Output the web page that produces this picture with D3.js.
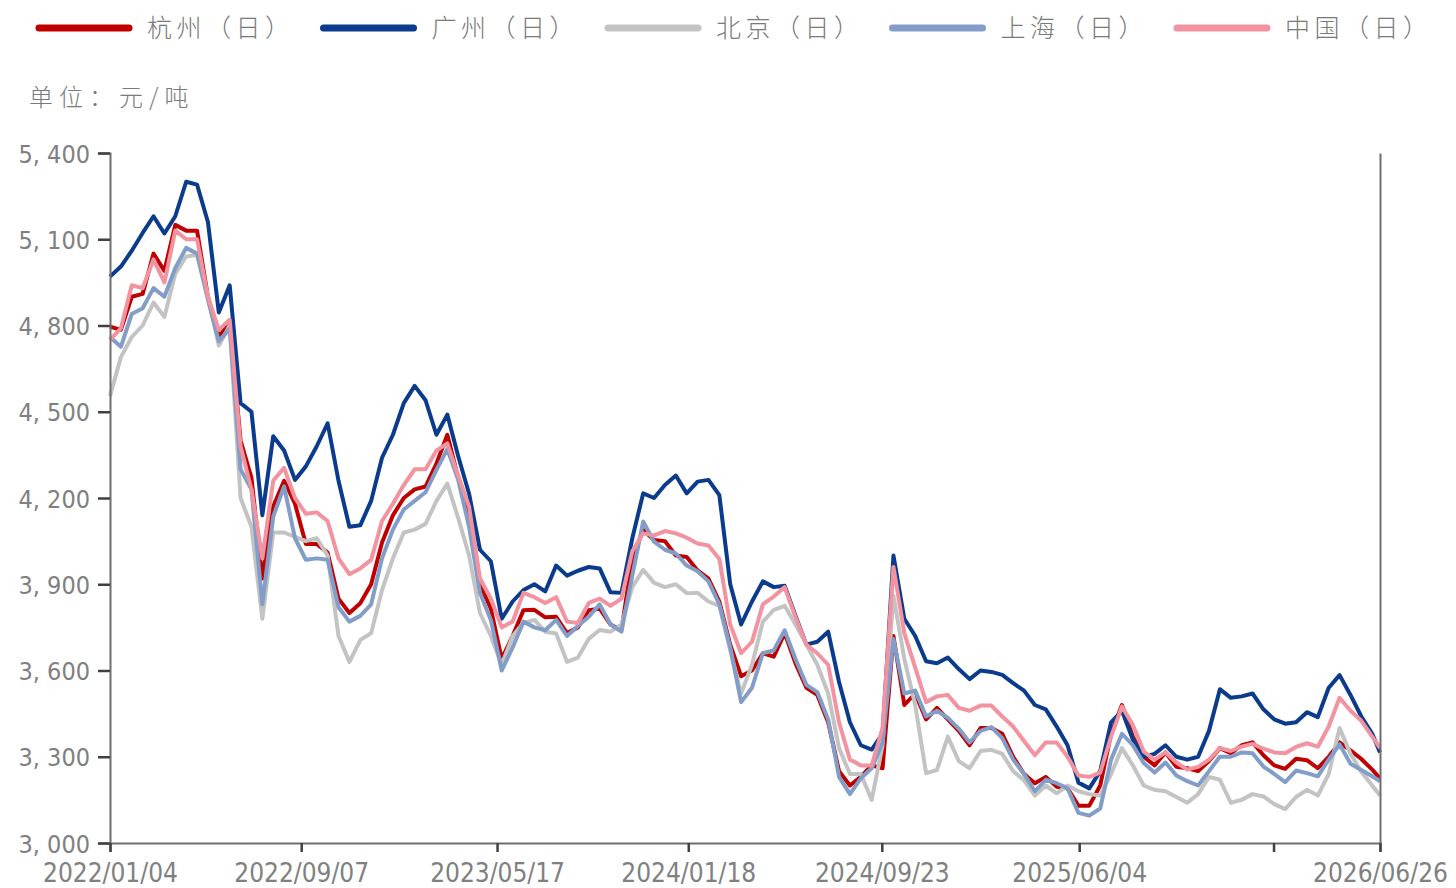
<!DOCTYPE html>
<html>
<head>
<meta charset="utf-8">
<script src="https://cdn.jsdelivr.net/npm/d3@7/dist/d3.min.js"></script>
<style>
  body { margin: 0; background: #fff; }
  .cjk { font-family: "Noto Sans CJK SC", sans-serif; font-weight: 300; fill: #7a7a7a; }
  .axis text { font-family: "DejaVu Sans Condensed", "DejaVu Sans", sans-serif; fill: #808080; }
</style>
</head>
<body>
<svg id="chart" width="1456" height="888"></svg>
<script>
// sample dates (every two weeks) and daily price readings, 元/吨
var dates = [
  "2022-01-04","2022-01-18","2022-02-01","2022-02-15","2022-03-01","2022-03-15","2022-03-29","2022-04-12","2022-04-26","2022-05-10","2022-05-24","2022-06-07","2022-06-21",
  "2022-07-05","2022-07-19","2022-08-02","2022-08-16","2022-08-30","2022-09-13","2022-09-27","2022-10-11","2022-10-25","2022-11-08","2022-11-22","2022-12-06","2022-12-20",
  "2023-01-03","2023-01-17","2023-01-31","2023-02-14","2023-02-28","2023-03-14","2023-03-28","2023-04-11","2023-04-25","2023-05-09","2023-05-23","2023-06-06","2023-06-20",
  "2023-07-04","2023-07-18","2023-08-01","2023-08-15","2023-08-29","2023-09-12","2023-09-26","2023-10-10","2023-10-24","2023-11-07","2023-11-21","2023-12-05","2023-12-19",
  "2024-01-02","2024-01-16","2024-01-30","2024-02-13","2024-02-27","2024-03-12","2024-03-26","2024-04-09","2024-04-23","2024-05-07","2024-05-21","2024-06-04","2024-06-18",
  "2024-07-02","2024-07-16","2024-07-30","2024-08-13","2024-08-27","2024-09-10","2024-09-24","2024-10-08","2024-10-22","2024-11-05","2024-11-19","2024-12-03","2024-12-17","2024-12-31",
  "2025-01-14","2025-01-28","2025-02-11","2025-02-25","2025-03-11","2025-03-25","2025-04-08","2025-04-22","2025-05-06","2025-05-20","2025-06-03","2025-06-17","2025-07-01",
  "2025-07-15","2025-07-29","2025-08-12","2025-08-26","2025-09-09","2025-09-23","2025-10-07","2025-10-21","2025-11-04","2025-11-18","2025-12-02","2025-12-16","2025-12-30",
  "2026-01-13","2026-01-27","2026-02-10","2026-02-24","2026-03-10","2026-03-24","2026-04-07","2026-04-21","2026-05-05","2026-05-19","2026-06-02","2026-06-16","2026-06-26"
];

var hangzhou = [
  4796,4785,4900,4910,5050,4990,5150,5130,5130,4900,4760,4810,4400,
  4270,3920,4170,4260,4180,4040,4040,4010,3850,3800,3834,3900,4045,
  4140,4200,4230,4240,4320,4420,4270,4130,3900,3815,3640,3720,3810,
  3811,3785,3787,3730,3750,3810,3815,3760,3740,3990,4089,4054,4050,
  4000,3995,3948,3920,3840,3690,3580,3600,3660,3648,3730,3625,3540,
  3515,3420,3250,3200,3230,3270,3260,3720,3480,3520,3430,3470,3430,3390,
  3340,3400,3400,3380,3300,3240,3208,3230,3196,3190,3130,3130,3200,
  3380,3480,3370,3300,3270,3315,3265,3260,3250,3285,3330,3312,3340,
  3350,3305,3270,3258,3293,3288,3260,3300,3350,3322,3292,3255,3225
];

var guangzhou = [
  4970,5005,5060,5122,5180,5120,5180,5300,5290,5160,4845,4940,4530,
  4500,4140,4415,4365,4263,4310,4380,4460,4260,4100,4105,4190,4340,
  4420,4530,4590,4540,4420,4490,4345,4215,4020,3980,3780,3840,3880,
  3900,3875,3965,3930,3947,3960,3955,3872,3870,4060,4216,4200,4245,
  4278,4216,4257,4263,4210,3900,3760,3840,3910,3890,3895,3790,3690,
  3700,3735,3560,3420,3340,3325,3380,4000,3780,3720,3632,3625,3645,3605,
  3570,3600,3595,3585,3556,3530,3480,3465,3405,3340,3210,3190,3250,
  3420,3460,3360,3300,3310,3340,3300,3290,3300,3390,3535,3505,3510,
  3520,3465,3430,3415,3420,3455,3438,3540,3584,3515,3440,3380,3315
];

var beijing = [
  4555,4690,4760,4800,4880,4830,4980,5040,5045,4900,4730,4800,4200,
  4100,3780,4080,4080,4065,4050,4060,4000,3720,3630,3706,3730,3880,
  3990,4080,4090,4110,4190,4250,4130,4000,3800,3720,3620,3720,3765,
  3776,3735,3729,3630,3645,3710,3741,3735,3760,3890,3950,3905,3890,
  3900,3869,3870,3840,3825,3670,3520,3620,3770,3811,3825,3760,3690,
  3620,3520,3330,3240,3240,3150,3340,3860,3640,3480,3243,3254,3370,3285,
  3260,3320,3324,3310,3250,3218,3165,3200,3173,3200,3180,3170,3165,
  3240,3330,3270,3200,3185,3180,3160,3140,3170,3230,3220,3140,3150,
  3170,3162,3135,3118,3160,3185,3165,3240,3400,3310,3248,3200,3165
];

var shanghai = [
  4760,4726,4840,4860,4930,4900,5000,5070,5050,4890,4745,4790,4300,
  4230,3830,4135,4240,4060,3985,3990,3985,3820,3770,3790,3830,3990,
  4090,4160,4190,4220,4298,4370,4263,4100,3870,3776,3600,3680,3770,
  3750,3740,3776,3720,3755,3787,3830,3760,3735,3930,4118,4048,4020,
  4007,3965,3945,3910,3830,3680,3490,3540,3660,3670,3740,3640,3550,
  3525,3430,3230,3170,3225,3260,3350,3710,3520,3530,3440,3460,3435,3398,
  3350,3390,3403,3365,3290,3240,3180,3220,3208,3190,3105,3095,3120,
  3290,3380,3340,3278,3245,3280,3235,3215,3200,3250,3300,3300,3315,
  3312,3266,3240,3212,3252,3243,3232,3290,3343,3276,3254,3232,3215
];

var china = [
  4750,4790,4940,4930,5030,4950,5130,5100,5100,4900,4785,4820,4380,
  4230,3990,4260,4305,4200,4145,4150,4120,3990,3935,3955,3985,4120,
  4180,4245,4300,4300,4365,4390,4278,4170,3920,3850,3750,3770,3870,
  3855,3835,3855,3770,3765,3835,3850,3825,3850,4015,4077,4070,4085,
  4077,4062,4042,4035,3988,3760,3660,3700,3830,3857,3890,3785,3690,
  3660,3620,3420,3290,3270,3270,3400,3960,3730,3610,3490,3510,3515,3470,
  3460,3478,3478,3440,3405,3355,3305,3350,3350,3300,3235,3230,3245,
  3370,3475,3410,3318,3290,3315,3280,3255,3265,3290,3330,3320,3335,
  3345,3328,3315,3312,3334,3347,3335,3405,3505,3460,3425,3370,3330
];

var seriesNames = ['杭州（日）', '广州（日）', '北京（日）', '上海（日）', '中国（日）'];
var seriesColors = ['#c00000', '#0a3b8c', '#c3c3c3', '#819dc8', '#f2939f'];
var yTicks = [3000, 3300, 3600, 3900, 4200, 4500, 4800, 5100, 5400];
var xTicks = ['2022/01/04', '2022/09/07', '2023/05/17', '2024/01/18', '2024/09/23', '2025/06/04', '2026/02/09', '2026/06/26'];
var xTickLabels = ['2022/01/04', '2022/09/07', '2023/05/17', '2024/01/18', '2024/09/23', '2025/06/04', '', '2026/06/26'];

(function() {
  var svg = d3.select('#chart');
  var left = 110, right = 1380, top = 153, bottom = 843;
  var parseDay = d3.utcParse('%Y-%m-%d');
  var parseTick = d3.utcParse('%Y/%m/%d');
  var days = dates.map(parseDay);
  var series = [hangzhou, guangzhou, beijing, shanghai, china];

  var x = d3.scaleUtc().domain([parseTick(xTicks[0]), parseTick(xTicks[xTicks.length - 1])]).range([left, right]);
  var y = d3.scaleLinear().domain([3000, 5400]).range([bottom, top]);

  // legend
  var legend = svg.append('g').selectAll('g').data(seriesNames).enter().append('g')
    .attr('transform', function(d, i) { return 'translate(' + (36 + i * 284.5) + ',0)'; });
  legend.append('line').attr('x1', 3).attr('x2', 93).attr('y1', 28).attr('y2', 28)
    .attr('stroke', function(d, i) { return seriesColors[i]; })
    .attr('stroke-width', 7).attr('stroke-linecap', 'round');
  legend.append('text').attr('class', 'cjk').attr('x', 111).attr('y', 37)
    .style('font-size', '25px').style('letter-spacing', '4.5px')
    .text(function(d) { return d; });

  svg.append('text').attr('class', 'cjk').attr('x', 29).attr('y', 106)
    .style('font-size', '24px').style('letter-spacing', '6px')
    .text('单位：元/吨');

  // lines
  var line = d3.line()
    .x(function(d, i) { return x(days[i]); })
    .y(function(d) { return y(d); })
    .curve(d3.curveLinear);
  svg.append('g').selectAll('path').data(series).enter().append('path')
    .attr('d', line)
    .attr('fill', 'none')
    .attr('stroke', function(d, i) { return seriesColors[i]; })
    .attr('stroke-width', 4)
    .attr('stroke-linejoin', 'round');

  // axes
  var yAxis = svg.append('g').attr('class', 'axis').attr('transform', 'translate(' + left + ',0)')
    .call(d3.axisLeft(y).tickValues(yTicks).tickSize(12).tickPadding(8)
      .tickFormat(function(d) { return d3.format(',')(d).replace(',', ', '); }));
  yAxis.selectAll('text').style('font-size', '25px').attr('dy', '0.36em');

  var xAxis = svg.append('g').attr('class', 'axis').attr('transform', 'translate(0,' + bottom + ')')
    .call(d3.axisBottom(x).tickValues(xTicks.map(parseTick)).tickSize(9).tickPadding(12)
      .tickFormat(function(d, i) { return xTickLabels[i]; }));
  xAxis.selectAll('text').style('font-size', '26px').attr('dy', '0.7em');

  svg.append('g').attr('class', 'axis').attr('transform', 'translate(' + right + ',0)')
    .call(d3.axisRight(y).tickValues([]).tickSizeOuter(0));

  svg.selectAll('.axis path.domain').attr('stroke', '#6e6e6e').attr('stroke-width', 2);
  svg.selectAll('.axis .tick line').attr('stroke', '#404040').attr('stroke-width', 2.5);
})();
</script>
</body>
</html>
